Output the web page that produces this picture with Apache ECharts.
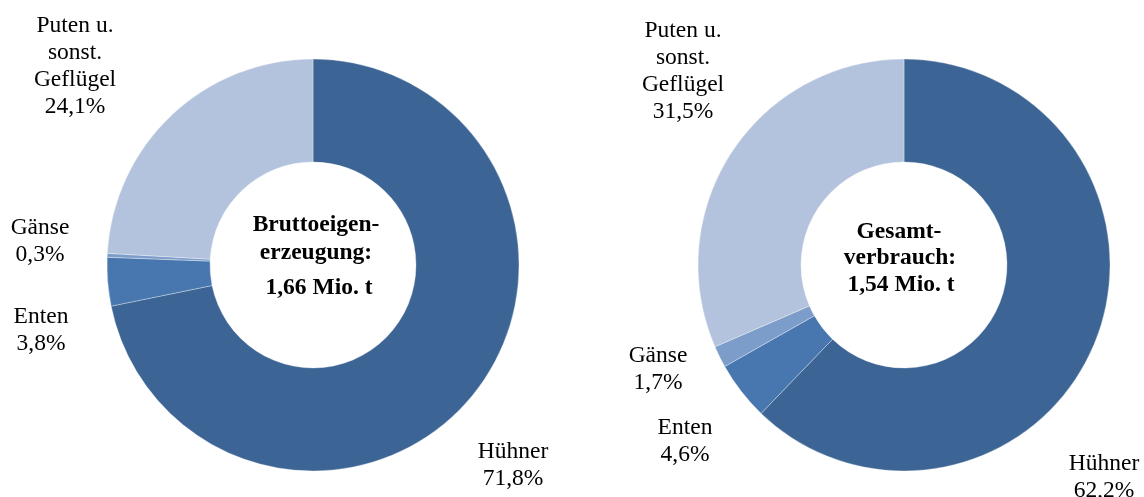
<!DOCTYPE html>
<html>
<head>
<meta charset="utf-8">
<script src="https://cdn.jsdelivr.net/npm/echarts@6/dist/echarts.min.js"></script>
<style>
  html, body { margin: 0; padding: 0; background: #fff; }
  #chart { width: 1144px; height: 497px; }
</style>
</head>
<body>
<div id="chart"></div>
<script>
// Geflügelfleisch: Anteile nach Geflügelart (in %)
const categories = ['Hühner', 'Enten', 'Gänse', 'Puten u.\nsonst.\nGeflügel'];
const erzeugung = [71.8, 3.8, 0.3, 24.1];
const verbrauch = [62.2, 4.6, 1.7, 31.5];
const centerTitles = [
  ['Bruttoeigen-', 'erzeugung:', '1,66 Mio. t'],
  ['Gesamt-', 'verbrauch:', '1,54 Mio. t']
];

const colors = ['#3c6494', '#4877af', '#7c9cc9', '#b4c3dd'];
const FONT = '"Liberation Serif", "Times New Roman", serif';

// label anchor points (centre of each label block) per donut, in slice order
const labelPos = [
  [[513, 465], [41, 330], [40, 241], [75, 66]],
  [[1104, 477], [685, 441], [658, 369], [683, 71]]
];
const centers = [[313, 265], [904, 265]];

function fmt(v) {
  return v.toFixed(1).replace('.', ',') + '%';
}

function pieSeries(values, idx) {
  return {
    type: 'pie',
    center: centers[idx],
    radius: [103, 206],
    startAngle: 90,
    clockwise: true,
    avoidLabelOverlap: false,
    silent: true,
    itemStyle: { borderColor: 'rgba(255,255,255,0.55)', borderWidth: 0.6 },
    label: {
      show: true,
      position: 'outside',
      formatter: p => p.name + '\n' + fmt(p.value),
      fontFamily: FONT,
      fontSize: 23.5,
      lineHeight: 27,
      color: '#000',
      align: 'center'
    },
    labelLine: { show: false },
    labelLayout: p => ({
      x: labelPos[idx][p.dataIndex][0],
      y: labelPos[idx][p.dataIndex][1],
      align: 'center',
      verticalAlign: 'middle'
    }),
    data: categories.map((c, i) => ({
      name: c,
      value: values[i],
      itemStyle: { color: colors[i] }
    }))
  };
}

const boldText = (text, x, y) => ({
  type: 'text',
  x: x, y: y,
  style: {
    text: text,
    fontFamily: FONT, fontSize: 23.5, fontWeight: 'bold',
    fill: '#000', align: 'center', verticalAlign: 'middle'
  }
});

const chart = echarts.init(document.getElementById('chart'), null, { renderer: 'canvas' });
chart.setOption({
  animation: false,
  backgroundColor: '#fff',
  series: [pieSeries(erzeugung, 0), pieSeries(verbrauch, 1)],
  graphic: [
    boldText(centerTitles[0][0], 316, 225),
    boldText(centerTitles[0][1], 316, 253),
    boldText(centerTitles[0][2], 319, 288),
    boldText(centerTitles[1][0], 899, 232),
    boldText(centerTitles[1][1], 900, 258),
    boldText(centerTitles[1][2], 901, 285)
  ]
});
</script>
</body>
</html>
